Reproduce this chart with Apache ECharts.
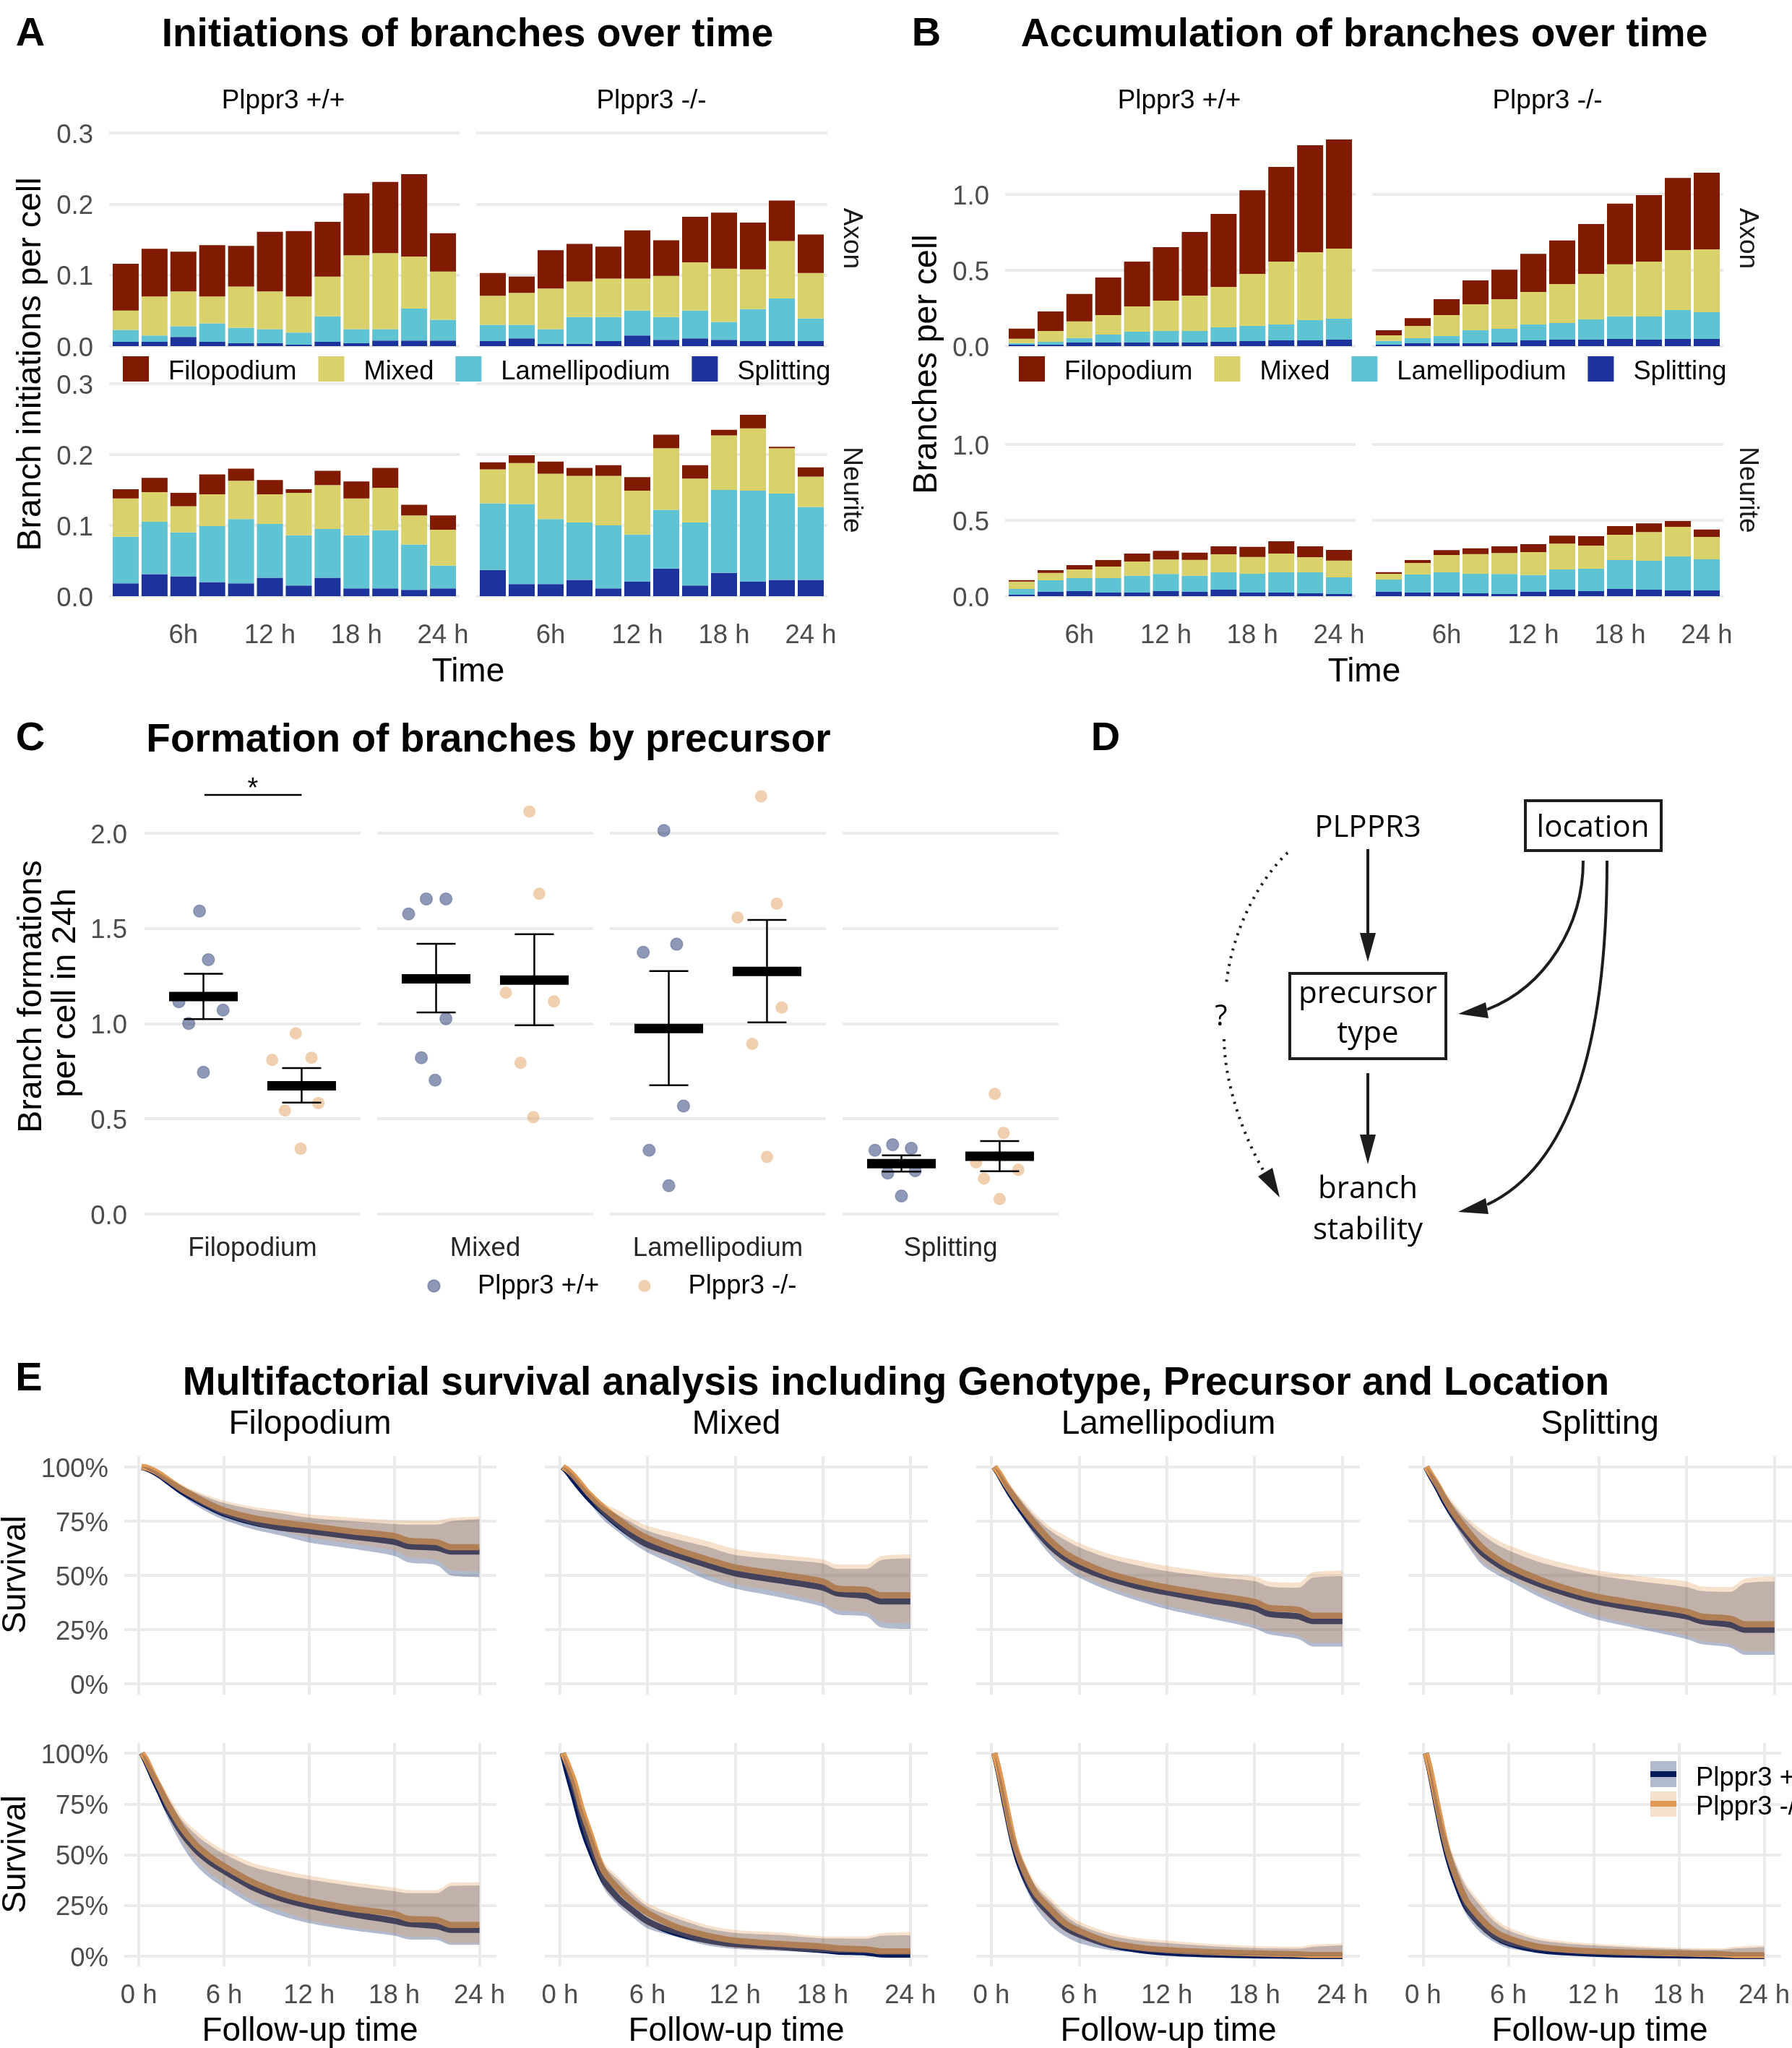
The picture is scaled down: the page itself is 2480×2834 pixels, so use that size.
<!DOCTYPE html>
<html><head><meta charset="utf-8">
<script src="https://cdn.jsdelivr.net/npm/echarts@6/dist/echarts.min.js"></script>
<style>html,body{margin:0;padding:0;background:#fff;overflow:hidden}#c{width:2480px;height:2834px}</style>
</head><body><div id="c"></div>
<script>
// ---------- Panels A / B: time and tick labels
const barHours=[2,4,6,8,10,12,14,16,18,20,22,24];
const barTickHours=[6,12,18,24];
const barTickLabels=['6h','12 h','18 h','24 h'];
const precursors=['Filopodium','Mixed','Lamellipodium','Splitting'];
const genotypes=['Plppr3 +/+','Plppr3 -/-'];
// ---------- Panel A: initiations, Axon, +/+
const iAxWtFil=[.066,.067,.056,.072,.057,.084,.092,.077,.087,.100,.116,.054];
const iAxWtMix=[.027,.055,.049,.038,.058,.053,.051,.056,.104,.107,.073,.068];
const iAxWtLam=[.017,.009,.015,.026,.022,.020,.017,.036,.020,.016,.045,.029];
const iAxWtSpl=[.006,.006,.013,.006,.004,.004,.002,.006,.004,.008,.008,.008];
// Axon, -/-
const iAxKoFil=[.032,.023,.054,.053,.045,.068,.050,.064,.079,.066,.057,.054];
const iAxKoMix=[.041,.045,.057,.050,.054,.045,.058,.068,.075,.056,.081,.064];
const iAxKoLam=[.023,.019,.021,.038,.034,.035,.032,.039,.025,.045,.060,.032];
const iAxKoSpl=[.007,.011,.003,.003,.007,.015,.009,.011,.009,.007,.007,.007];
// Neurite, +/+
const iNeWtFil=[.013,.020,.019,.028,.017,.020,.005,.020,.024,.028,.015,.020];
const iNeWtMix=[.054,.042,.037,.045,.054,.042,.060,.062,.052,.060,.041,.051];
const iNeWtLam=[.066,.074,.062,.079,.091,.076,.071,.069,.075,.082,.064,.032];
const iNeWtSpl=[.018,.031,.028,.020,.018,.026,.015,.026,.011,.011,.009,.011];
// Neurite, -/-
const iNeKoFil=[.010,.011,.017,.011,.015,.019,.019,.019,.008,.019,.002,.013];
const iNeKoMix=[.048,.058,.064,.066,.070,.062,.087,.062,.077,.088,.064,.043];
const iNeKoLam=[.094,.113,.092,.081,.089,.066,.083,.089,.117,.128,.122,.103];
const iNeKoSpl=[.037,.017,.017,.023,.011,.021,.039,.015,.033,.021,.023,.023];
// ---------- Panel B: accumulation
const bAxWtFil=[.067,.129,.181,.248,.295,.352,.419,.481,.552,.624,.705,.719];
const bAxWtMix=[.029,.071,.110,.129,.167,.200,.233,.267,.343,.414,.448,.462];
const bAxWtLam=[.010,.019,.029,.052,.071,.076,.076,.095,.100,.105,.133,.138];
const bAxWtSpl=[.010,.010,.024,.024,.024,.024,.024,.029,.033,.038,.038,.043];
const bAxKoFil=[.033,.052,.105,.157,.195,.252,.286,.329,.400,.438,.476,.505];
const bAxKoMix=[.038,.081,.138,.171,.195,.214,.257,.300,.343,.362,.395,.414];
const bAxKoLam=[.024,.033,.048,.086,.090,.105,.110,.133,.148,.152,.190,.176];
const bAxKoSpl=[.010,.019,.019,.019,.024,.038,.043,.043,.048,.043,.048,.048];
const bNeWtFil=[.010,.019,.029,.043,.052,.057,.048,.052,.067,.081,.071,.071];
const bNeWtMix=[.048,.048,.057,.076,.095,.095,.105,.119,.110,.124,.100,.110];
const bNeWtLam=[.038,.076,.086,.095,.110,.114,.105,.114,.124,.133,.138,.110];
const bNeWtSpl=[.010,.029,.033,.024,.024,.033,.029,.043,.024,.024,.019,.014];
const bNeKoFil=[.010,.019,.033,.038,.043,.052,.052,.062,.057,.057,.038,.048];
const bNeKoMix=[.038,.076,.114,.129,.138,.152,.171,.152,.167,.190,.195,.148];
const bNeKoLam=[.081,.119,.133,.129,.133,.110,.133,.148,.190,.190,.224,.205];
const bNeKoSpl=[.029,.024,.024,.019,.014,.029,.043,.033,.048,.043,.038,.038];
// ---------- Panel C: points (x is genotype position with jitter), mean and error bars
const cFilWtX=[.96,1.05,.75,1.20,.85,1.00], cFilWtY=[1.591,1.336,1.115,1.071,1.001,.745];
const cFilKoX=[1.94,1.70,2.10,2.17,1.83,1.99], cFilKoY=[.949,.809,.821,.583,.544,.343];
const cMixWtX=[.72,.90,1.10,1.10,.85,.99], cMixWtY=[1.576,1.655,1.655,1.026,.821,.703];
const cMixKoX=[1.95,2.05,1.71,2.20,1.86,1.99], cMixKoY=[2.114,1.682,1.162,1.117,.794,.509];
const cLamWtX=[.95,1.08,.74,1.15,.80,1.00], cLamWtY=[2.014,1.417,1.375,.567,.335,.149];
const cLamKoX=[1.94,2.10,1.70,2.15,1.85,2.00], cLamKoY=[2.194,1.630,1.557,1.084,.894,.300];
const cSplWtX=[.73,.91,1.10,.86,1.14,1.00], cSplWtY=[.335,.364,.345,.215,.228,.095];
const cSplKoX=[1.95,2.04,1.76,2.19,1.84,2.00], cSplKoY=[.631,.426,.271,.232,.186,.079];
const cWtMean=[1.142,1.235,.974,.265], cWtLow=[1.024,1.059,.676,.223], cWtHigh=[1.262,1.419,1.276,.308];
const cKoMean=[.674,1.229,1.274,.304], cKoLow=[.585,.991,1.007,.225], cKoHigh=[.767,1.470,1.545,.383];
// ---------- Panel E: survival (percent). Wt/Ko = genotype; Mid, Lo, Hi = curve and band
const survHours=[.2,.5,1,1.5,2,3,4,5,6,8,10,12,15,18,19,21,22,24];
const survTickHours=[0,6,12,18,24];
const survTickPct=[0,25,50,75,100];
const axFilWtMid=[100,99.5,98,96,93.6,88.8,85,81.5,78.5,74.5,72,70.5,68,65.5,63.5,62.7,61,61];
const axFilKoMid=[100,99.8,98.5,96.6,94.3,89.8,86.2,82.8,80,76.5,74.4,72.8,70.3,68.2,66,65.3,63,63];
const axFilKoHi=[100,100,99,97.5,95.6,92,89,86.5,84.4,81.7,80,78.2,76.7,75.4,75.2,75.2,76.5,77];
const axFilWtHi=[100,100,98.8,97,95,91.4,88.2,85.6,83.4,80.5,78.6,76.6,75,73.7,73.4,73.4,75,75.9];
const axFilKoLo=[100,99.6,98,95.8,93.3,88.4,84,80.6,77.6,73.4,70.5,67.6,64.6,61.5,58.5,57,52.5,51.7];
const axFilWtLo=[100,99.2,97.3,95,92.3,87,82.3,78.6,75.6,71.3,68.4,65.2,62.3,59,56,54.7,50,49.2];
const axMixWtMid=[100,98,93.5,89.3,85.5,79,73.2,68.2,64.2,59.4,55,51,47.7,44.4,41.7,40.5,38,38];
const axMixKoMid=[100,98.8,95.5,91.5,87.5,81.2,75.8,71,67.2,61.9,57.6,53.7,50.5,47.2,43.9,43.3,40.8,40.8];
const axMixKoHi=[100,99.5,96.5,92.5,89,83.3,80,76,72.8,69.4,66,62.2,59.6,57.4,55,55,58.9,59.7];
const axMixWtHi=[100,99.2,96,92,88.3,81.8,77.8,74,70.6,66.7,63.4,59.4,57.4,55.5,53,53,57,57.8];
const axMixKoLo=[100,98,94.5,90,85.5,77.5,72,66.5,62.2,56.7,50.4,46,42.4,37.2,34,32.8,28.5,27.8];
const axMixWtLo=[100,97.6,92.8,88,83.5,75.5,70,64.8,60.6,54.4,48.2,43.9,40,35.6,32,31,26,25.3];
const axLamWtMid=[100,97,91,85.5,80.5,71.5,63.8,58.2,54.2,48.8,45,42.2,38.5,35,32.2,31.1,28.9,28.9];
const axLamKoMid=[100,97.5,92,86.8,82,73.7,66.2,60.5,56.6,51,47.3,44.4,41,37.8,35,34.1,31.4,31.4];
const axLamKoHi=[100,98.5,94,90,86,78.5,72.5,68.5,65,60,57,54.4,51.5,49.4,47.2,46.7,51.5,52.2];
const axLamWtHi=[100,98.2,93.2,89,85,77,70.8,66.5,63,58,54.6,52,49.3,47.3,44.8,44.3,49,49.6];
const axLamKoLo=[100,97,90.5,84.5,79.5,69.5,61.3,55,50.5,44.5,40,36,31.5,27,24.4,22.2,18.9,18.9];
const axLamWtLo=[100,96.6,90,83.5,78,68,59.7,53.5,49,43,38.3,34.4,30,25.6,22.8,20.6,17.2,17.2];
const axSplWtMid=[100,96,90,83.5,78,68.5,60.5,55.5,51.5,45.8,41.3,37.8,34.3,31.1,28.9,27.2,24.9,24.9];
const axSplKoMid=[100,96.8,91.2,85,79.6,70.7,63,57.8,53.8,48,43.5,40,36.6,33.3,31.1,30,27.4,27.4];
const axSplKoHi=[100,98,94,88.5,84,76.5,71,66.5,63.4,58.6,55,52.2,49.5,47.2,45,44.6,48.5,49.4];
const axSplWtHi=[100,97.7,93.2,87.5,82.8,75,69,64.3,61,56,52.6,49.8,47,44.6,42.8,42.4,46.5,47.2];
const axSplKoLo=[100,95.7,89,82,76,65.5,56.5,52,48.5,41.7,35.8,31.1,26.5,22.2,19.8,18.1,15,15];
const axSplWtLo=[100,95.2,88,81,75,64,55,50.5,47,39.8,34,29.4,25,20.6,18.3,16.7,13.3,13.3];
const neFilWtMid=[100,96,88,80.5,73,61,52.5,46.5,42,34,28.5,24.9,20.8,17.4,16,14.8,13,13];
const neFilKoMid=[100,97,89.5,82.5,75.5,63.5,55,49,44.4,36.5,31,27.3,23.5,20.8,18.4,17.8,15.4,15.4];
const neFilKoHi=[100,98.5,92.5,86,80,69,62,56.5,52.2,46,42.5,39.7,36.5,33.8,32.6,32.6,36.2,36.4];
const neFilWtHi=[100,98,91.5,85,78.5,67.3,60,54.6,50.4,44,40.4,37.8,34.6,32,31,31,34.6,34.8];
const neFilKoLo=[100,95,86.5,78.5,70.5,57,47.5,41,36.2,27.8,22.3,17.8,14.2,11.3,9.5,9.3,6.5,6.5];
const neFilWtLo=[100,94.5,85.5,77,68.5,55,45,38.5,33.8,25.5,20,16.3,12.8,10.1,8.3,8,5.6,5.6];
const neMixWtMid=[100,91,78,64.5,54,37.5,28.5,22.5,17.2,11.3,8,5.9,4.6,3,2.3,1.8,.9,.8];
const neMixKoMid=[100,95,85.5,72.5,62,42,33.2,26.5,21.4,14.3,10.3,7.7,6,4.7,3.9,3.4,2.4,2.4];
const neMixKoHi=[100,96,87,74,64.5,46.5,39,32,26.1,20.2,15.5,13,11.7,9.8,9.7,9.7,11.3,11.9];
const neMixWtHi=[100,95.5,86,73.3,63.3,45,37.5,30.3,24.5,18.7,14,11.5,10.5,8.8,8.7,8.6,10,10.3];
const neMixKoLo=[100,90,77,63.5,53,35,26.5,20.5,15.2,10.7,6.3,4.3,3,2,1.7,1.5,1.2,1.2];
const neMixWtLo=[100,89,76,62,51.5,33.5,25,19,13.7,9.5,5.5,3.6,2.6,1.8,1.5,1.2,.6,.6];
const neLamWtMid=[100,91,73,56,44,29,21,14.5,10.7,5.8,3.2,1.8,.9,.4,.3,.2,.1,.1];
const neLamKoMid=[100,92,75,58,46.5,31.5,23.5,16.5,12.5,7,4.3,3,2,1.4,1.2,1,.6,.6];
const neLamKoHi=[100,93.5,78,62,51,36.5,29,22,17.2,11.8,9,7.7,6,5,4.8,4.7,5.7,6.2];
const neLamWtHi=[100,92.8,77,60.5,49.5,35,27.3,20.3,15.5,10.4,7.8,6.5,5,4,3.8,3.7,4.6,5.3];
const neLamKoLo=[100,90,71,54,41.5,26.5,18,12.3,8.9,4.5,3,2.1,1.3,.8,.6,.5,.3,.3];
const neLamWtLo=[100,89,69.5,52.5,39.5,24.5,15.5,10,6.5,3.2,1.9,1.2,.6,.3,.2,.1,0,0];
const neSplWtMid=[100,91,73,56,43,25,16,10,6.5,3.2,1.9,1.2,.7,.4,.3,.2,.1,.1];
const neSplKoMid=[100,92,75,58.5,45.5,28,19,12.5,8.9,4.8,3.2,2.4,1.8,1.4,1.2,1,.5,.5];
const neSplKoHi=[100,93.5,78,63,52,36,27,19,14.2,9.3,7.3,6.2,5,4.2,4,3.9,4.7,5.3];
const neSplWtHi=[100,92.8,77,61.5,50.5,34.5,25.2,17.3,12.7,8.2,6.3,5.3,4.2,3.5,3.3,3.2,3.8,4.4];
const neSplKoLo=[100,90,71,54.5,41,23,14,8.5,5.5,2.8,1.7,1.2,.8,.5,.4,.3,.2,.2];
const neSplWtLo=[100,89,69.5,53,39,21,12,7,4,1.8,1,.6,.3,.2,.1,.1,0,0];

// ---------- styling
const FONT='Liberation Sans', GRID='#ebebeb', TICK='#4d4d4d';
const C_FIL='#801a00',C_MIX='#d9d26c',C_LAM='#5fc3d3',C_SPL='#1b339b';
const NAVY='#001a5c', ORANGE='#e09a55';
const TICKSIZE=36.5, TITLESIZE=55, AXSIZE=46, ROTSIZE=46.5;

const grids=[],xAxes=[],yAxes=[],series=[];
function addGrid(l,t,w,h,x,y){
  const i=grids.length;
  grids.push({left:l,top:t,width:w,height:h,containLabel:false});
  xAxes.push(Object.assign({type:'value',gridIndex:i,axisLine:{show:false},axisTick:{show:false},splitLine:{show:false},
    axisLabel:{show:false}},x));
  yAxes.push(Object.assign({type:'value',gridIndex:i,axisLine:{show:false},axisTick:{show:false},
    splitLine:{show:true,lineStyle:{color:GRID,width:4}},axisLabel:{show:false}},y));
  return i;
}
function tickLab(margin,fn,custom,extra){
  return Object.assign({show:true,color:TICK,fontSize:TICKSIZE,fontFamily:FONT,margin:margin,formatter:fn,customValues:custom,hideOverlap:false,showMinLabel:true,showMaxLabel:true},extra||{});
}
// y labels sit a little below their gridline
function yLab(margin,fn,custom){
  return tickLab(margin,v=>'{a|'+fn(v)+'}',custom,{rich:{a:{color:TICK,fontSize:TICKSIZE,fontFamily:FONT,padding:[7,0,0,0]}}});
}
// ---- stacked bars panel
function barPanel(left,top,height,w,ymax,yticks,showY,showX,wt,stackId){
  const xa={min:.85,max:25.15};
  if(showX){xa.axisLabel=tickLab(36,v=>barTickLabels[barTickHours.indexOf(v)]||'',barTickHours);xa.axisTick={show:false,customValues:barTickHours};}
  const ya={min:0,max:ymax,axisTick:{show:false,customValues:yticks}};
  if(showY)ya.axisLabel=yLab(22,v=>v.toFixed(1),yticks);
  const g=addGrid(left,top,w,height,xa,ya);
  const cols=[C_SPL,C_LAM,C_MIX,C_FIL], names=['Splitting','Lamellipodium','Mixed','Filopodium'];
  wt.forEach((vals,k)=>series.push({type:'bar',name:names[k],xAxisIndex:g,yAxisIndex:g,stack:stackId,barWidth:36,
    encode:{x:1,y:0},itemStyle:{color:cols[k]},silent:true,data:barHours.map((h,i)=>[vals[i],h])}));
}
const xA=[[151,485],[659,486]], xB=[[1391,485],[1899,486]];
const TOP1=184,H1=295,TOP2=531,H2=294;
const tA=[0,.1,.2,.3], tB=[0,.5,1];
barPanel(xA[0][0],TOP1,H1,xA[0][1],.3,tA,true,false,[iAxWtSpl,iAxWtLam,iAxWtMix,iAxWtFil],'a1');
barPanel(xA[1][0],TOP1,H1,xA[1][1],.3,tA,false,false,[iAxKoSpl,iAxKoLam,iAxKoMix,iAxKoFil],'a2');
barPanel(xA[0][0],TOP2,H2,xA[0][1],.3,tA,true,true,[iNeWtSpl,iNeWtLam,iNeWtMix,iNeWtFil],'a3');
barPanel(xA[1][0],TOP2,H2,xA[1][1],.3,tA,false,true,[iNeKoSpl,iNeKoLam,iNeKoMix,iNeKoFil],'a4');
barPanel(xB[0][0],TOP1,H1,xB[0][1],1.405,tB,true,false,[bAxWtSpl,bAxWtLam,bAxWtMix,bAxWtFil],'b1');
barPanel(xB[1][0],TOP1,H1,xB[1][1],1.405,tB,false,false,[bAxKoSpl,bAxKoLam,bAxKoMix,bAxKoFil],'b2');
barPanel(xB[0][0],TOP2,H2,xB[0][1],1.4,tB,true,true,[bNeWtSpl,bNeWtLam,bNeWtMix,bNeWtFil],'b3');
barPanel(xB[1][0],TOP2,H2,xB[1][1],1.4,tB,false,true,[bNeKoSpl,bNeKoLam,bNeKoMix,bNeKoFil],'b4');

// ---- panel C
const cLefts=[200,522,844,1166];
const cPoints=[[cFilWtX,cFilWtY,cFilKoX,cFilKoY],[cMixWtX,cMixWtY,cMixKoX,cMixKoY],[cLamWtX,cLamWtY,cLamKoX,cLamKoY],[cSplWtX,cSplWtY,cSplKoX,cSplKoY]];
const cTicks=[0,.5,1,1.5,2];
function crossbar(params,api){
  const x=api.value(0),m=api.coord([x,api.value(1)]),lo=api.coord([x,api.value(2)]),hi=api.coord([x,api.value(3)]);
  const st={stroke:'#000',lineWidth:2.5,fill:null};
  return {type:'group',children:[
    {type:'line',shape:{x1:m[0],y1:lo[1],x2:m[0],y2:hi[1]},style:st},
    {type:'line',shape:{x1:m[0]-27,y1:lo[1],x2:m[0]+27,y2:lo[1]},style:st},
    {type:'line',shape:{x1:m[0]-27,y1:hi[1],x2:m[0]+27,y2:hi[1]},style:st},
    {type:'rect',shape:{x:m[0]-47.5,y:m[1]-6.5,width:95,height:13},style:{fill:'#000'}}
  ]};
}
cLefts.forEach((l,i)=>{
  const ya={min:0,max:2.296,axisTick:{show:false,customValues:cTicks}};
  if(i===0)ya.axisLabel=yLab(24,v=>v.toFixed(1),cTicks);
  const g=addGrid(l,1075,299,605,{min:.4,max:2.6,axisLabel:tickLab(29,()=>precursors[i],[1.5],{color:'#262626'})},ya);
  const p=cPoints[i];
  series.push({type:'scatter',name:genotypes[0],xAxisIndex:g,yAxisIndex:g,symbolSize:17,silent:true,z:2,
    itemStyle:{color:'rgba(0,26,92,0.56)',borderColor:'rgba(0,26,92,0.3)',borderWidth:1.5},data:p[0].map((x,j)=>[x,p[1][j]])});
  series.push({type:'scatter',name:genotypes[1],xAxisIndex:g,yAxisIndex:g,symbolSize:17,silent:true,z:2,
    itemStyle:{color:'rgba(224,154,85,0.6)'},data:p[2].map((x,j)=>[x,p[3][j]])});
  series.push({type:'custom',xAxisIndex:g,yAxisIndex:g,silent:true,z:3,renderItem:crossbar,
    encode:{x:0,y:[1,2,3]},data:[[1,cWtMean[i],cWtLow[i],cWtHigh[i]],[2,cKoMean[i],cKoLow[i],cKoHigh[i]]]});
  if(i===0)series.push({type:'line',xAxisIndex:g,yAxisIndex:g,silent:true,showSymbol:false,z:3,lineStyle:{color:'#000',width:2.5},data:[[1.01,2.201],[2.0,2.201]]});
});

// ---- panel E
const survRows=[
 [axFilWtMid,axFilKoMid,axFilWtLo,axFilWtHi,axFilKoLo,axFilKoHi],
 [axMixWtMid,axMixKoMid,axMixWtLo,axMixWtHi,axMixKoLo,axMixKoHi],
 [axLamWtMid,axLamKoMid,axLamWtLo,axLamWtHi,axLamKoLo,axLamKoHi],
 [axSplWtMid,axSplKoMid,axSplWtLo,axSplWtHi,axSplKoLo,axSplKoHi],
 [neFilWtMid,neFilKoMid,neFilWtLo,neFilWtHi,neFilKoLo,neFilKoHi],
 [neMixWtMid,neMixKoMid,neMixWtLo,neMixWtHi,neMixKoLo,neMixKoHi],
 [neLamWtMid,neLamKoMid,neLamWtLo,neLamWtHi,neLamKoLo,neLamKoHi],
 [neSplWtMid,neSplKoMid,neSplWtLo,neSplWtHi,neSplKoLo,neSplKoHi]];
const eCols=[[172,515],[754,530],[1351,531],[1949,531]];
const eRows=[[2015,330],[2412,309]];
const SMOOTH=0.3;
function bandSeries(g,lo,hi,color,z,id){
  const base={type:'line',xAxisIndex:g,yAxisIndex:g,silent:true,showSymbol:false,stack:id,z:z,smooth:SMOOTH,encode:{x:1,y:0}};
  return [
    Object.assign({},base,{lineStyle:{width:0,opacity:0},data:survHours.map((t,i)=>[lo[i],t])}),
    Object.assign({},base,{lineStyle:{width:0,opacity:0},areaStyle:{color:color,opacity:.3},data:survHours.map((t,i)=>[hi[i]-lo[i],t])})
  ];
}
survRows.forEach((d,k)=>{
  const c=eCols[k%4],r=eRows[k<4?0:1];
  const xa={min:-1.03,max:25.2,axisTick:{show:false,customValues:survTickHours},splitLine:{show:true,lineStyle:{color:GRID,width:4}}};
  if(k>=4)xa.axisLabel=tickLab(22,v=>v+' h',survTickHours);
  const ya={min:-5,max:105,axisTick:{show:false,customValues:survTickPct}};
  if(k%4===0)ya.axisLabel=yLab(22,v=>v+'%',survTickPct);
  const g=addGrid(c[0],r[0],c[1],r[1],xa,ya);
  [[d[0],NAVY,2],[d[1],ORANGE,3]].forEach(s=>series.push({type:'line',xAxisIndex:g,yAxisIndex:g,silent:true,showSymbol:false,z:s[2],smooth:SMOOTH,
    lineStyle:{color:s[1],width:8.5,cap:'butt'},data:survHours.map((t,i)=>[t,s[0][i]])}));
  series.push(...bandSeries(g,d[2],d[3],NAVY,4,'w'+k));
  series.push(...bandSeries(g,d[4],d[5],ORANGE,5,'k'+k));
});

// ---- free text and schematic
function T(x,y,s,o){o=o||{};return {type:'text',x:x,y:y,rotation:o.rot||0,silent:true,z:20,style:{text:s,fontFamily:o.fam||FONT,fontSize:o.size||TICKSIZE,
  fontWeight:o.w||'normal',fill:o.c||'#000',align:o.a||'center',verticalAlign:'middle'}};}
const R=Math.PI/2, g=[];
[['A',42,48],['B',1282,48],['C',42,1023],['D',1530,1023],['E',40,1909]].forEach(a=>g.push(T(a[1],a[2],a[0],{size:56,w:'bold'})));
g.push(T(647,49,'Initiations of branches over time',{size:TITLESIZE,w:'bold'}));
g.push(T(1888,49,'Accumulation of branches over time',{size:TITLESIZE,w:'bold'}));
g.push(T(676,1025,'Formation of branches by precursor',{size:TITLESIZE,w:'bold'}));
g.push(T(1240,1915,'Multifactorial survival analysis including Genotype, Precursor and Location',{size:TITLESIZE,w:'bold'}));
[0,1240].forEach(dx=>{
  g.push(T(392+dx,140,genotypes[0],{size:37}));
  g.push(T(901.5+dx,140,genotypes[1],{size:37}));
  g.push(T(1178+dx,330,'Axon',{rot:-R,c:'#1a1a1a',size:37}));
  g.push(T(1178+dx,678,'Neurite',{rot:-R,c:'#1a1a1a',size:37}));
  g.push(T(648+dx,930,'Time',{size:AXSIZE}));
});
g.push(T(43,504,'Branch initiations per cell',{rot:R,size:ROTSIZE}));
g.push(T(1283,504,'Branches per cell',{rot:R,size:ROTSIZE}));
g.push(T(44,1379,'Branch formations',{rot:R,size:ROTSIZE}));
g.push(T(91,1374,'per cell in 24h',{rot:R,size:ROTSIZE}));
g.push(T(350,1093,'*',{size:38}));
const eCenters=[429,1019,1617,2214];
precursors.forEach((p,i)=>{g.push(T(eCenters[i],1971,p,{size:AXSIZE}));g.push(T(eCenters[i],2811,'Follow-up time',{size:AXSIZE}));});
g.push(T(22,2179,'Survival',{rot:R,size:AXSIZE}));
g.push(T(22,2566,'Survival',{rot:R,size:AXSIZE}));
// E legend
function rect(x,y,w,h,f){return {type:'rect',silent:true,z:20,shape:{x:x,y:y,width:w,height:h},style:{fill:f}};}
g.push(rect(2284,2437,36,36,'#b2bace'),rect(2284,2451,36,8,NAVY),rect(2284,2479,36,35,'#f5e0cc'),rect(2284,2492,36,8,ORANGE));
g.push(T(2347,2461,genotypes[0],{a:'left'}),T(2347,2501,genotypes[1],{a:'left'}));
// D schematic
const INK='#1d1d1b',OS='Open Sans',DS=42;
function stroked(type,shape,o){return {type:type,silent:true,z:20,shape:shape,style:Object.assign({stroke:INK,lineWidth:4,fill:null},o||{})};}
function head(a,b,c){return {type:'polygon',silent:true,z:20,shape:{points:[a,b,c]},style:{fill:INK}};}
g.push(T(1893,1146,'PLPPR3',{fam:OS,size:DS}),T(2204.5,1146,'location',{fam:OS,size:DS}),
  T(1893,1376,'precursor',{fam:OS,size:DS}),T(1893,1431,'type',{fam:OS,size:DS}),
  T(1893,1646,'branch',{fam:OS,size:DS}),T(1893,1703,'stability',{fam:OS,size:DS}),T(1690,1408,'?',{fam:OS,size:40}));
g.push(stroked('rect',{x:2111,y:1108,width:188,height:69}),stroked('rect',{x:1785,y:1347,width:216,height:118}));
g.push(stroked('line',{x1:1893,y1:1175,x2:1893,y2:1295}),head([1882,1291],[1904,1291],[1893,1331]));
g.push(stroked('line',{x1:1893,y1:1485,x2:1893,y2:1575}),head([1882,1570],[1904,1570],[1893,1611]));
g.push(stroked('bezierCurve',{x1:2191,y1:1191,cpx1:2191,cpy1:1280,cpx2:2140,cpy2:1365,x2:2058,y2:1397}),head([2056,1387],[2060,1409],[2018,1403]));
g.push(stroked('bezierCurve',{x1:2224,y1:1191,cpx1:2224,cpy1:1400,cpx2:2190,cpy2:1605,x2:2058,y2:1667}),head([2056,1658],[2060,1680],[2018,1677]));
const dot={lineDash:[3,8],lineWidth:4};
g.push(stroked('bezierCurve',{x1:1782,y1:1180,cpx1:1740,cpy1:1220,cpx2:1705,cpy2:1290,x2:1697,y2:1362},dot));
g.push(stroked('bezierCurve',{x1:1694,y1:1438,cpx1:1695,cpy1:1500,cpx2:1720,cpy2:1570,x2:1748,y2:1619},dot));
g.push(head([1741,1628],[1761,1616],[1771,1657]));

const barLegendNames=['Filopodium','Mixed','Lamellipodium','Splitting'];
const mkBarLegend=l=>({left:l,top:488,orient:'horizontal',itemWidth:36,itemHeight:35,itemGap:30,icon:'rect',selectedMode:false,
  data:barLegendNames,formatter:'{a|{name}}',textStyle:{rich:{a:{fontFamily:FONT,fontSize:36.3,color:'#000',padding:[8,0,0,22]}}}});
const option={animation:false,backgroundColor:'#fff',textStyle:{fontFamily:FONT},
  grid:grids,xAxis:xAxes,yAxis:yAxes,series:series,
  legend:[mkBarLegend(165),mkBarLegend(1405),
    {left:586,top:1756,itemWidth:17,itemHeight:17,itemGap:54,icon:'circle',selectedMode:false,data:genotypes,
     textStyle:{fontFamily:FONT,fontSize:TICKSIZE,color:'#000',padding:[6,0,0,47]}}],
  graphic:{elements:g}};
echarts.init(document.getElementById('c'),null,{renderer:'canvas',width:2480,height:2834}).setOption(option);
</script></body></html>
